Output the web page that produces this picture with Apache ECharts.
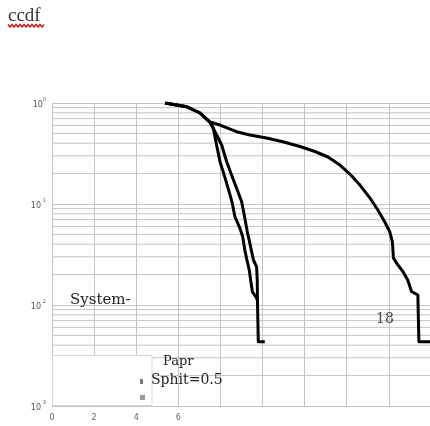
<!DOCTYPE html>
<html>
<head>
    <meta charset="utf-8">
    <title>ccdf</title>
    <script src="https://cdn.jsdelivr.net/npm/echarts@6/dist/echarts.min.js"></script>
    <style>
        html, body { margin: 0; padding: 0; background: #fff; }
        #chart { width: 430px; height: 426px; }
    </style>
</head>
<body>
    <div id="chart"></div>

    <script>
        // x ticks (only the first four carry a label in the picture)
        var xTickLabels = ['0', '2', '4', '6', '', '', '', '', '', '', ''];

        // minor log grid lines inside each decade
        var minorGrid = [
            0.9, 0.8, 0.7, 0.6, 0.5, 0.4, 0.3, 0.2,
            0.09, 0.08, 0.07, 0.06, 0.05, 0.04, 0.03, 0.02,
            0.009, 0.008, 0.007, 0.006, 0.005, 0.004, 0.003, 0.002
        ];

        // curve 1 (steep, left)
        var c1x = [5.37, 6.40, 7.03, 7.50, 7.66, 7.82, 7.98, 8.13, 8.37, 8.55, 8.69, 8.93, 9.06, 9.16, 9.26, 9.37, 9.45, 9.52, 9.69, 9.76];
        var c1y = [1.0, 0.918, 0.796, 0.648, 0.562, 0.384, 0.262, 0.209, 0.143, 0.105, 0.0748, 0.0574, 0.0474, 0.0350, 0.0279, 0.0222, 0.0169, 0.0135, 0.0120, 0.0112];

        // curve 2 (steep, right)
        var c2x = [5.37, 6.40, 7.03, 7.50, 7.66, 8.06, 8.30, 8.53, 8.77, 9.01, 9.16, 9.28, 9.40, 9.50, 9.57, 9.72, 9.75, 9.76, 9.80, 10.11];
        var c2y = [1.0, 0.918, 0.796, 0.648, 0.562, 0.384, 0.262, 0.194, 0.143, 0.1054, 0.0727, 0.0528, 0.0408, 0.0325, 0.0279, 0.0239, 0.0177, 0.0112, 0.00433, 0.00433];

        // curve 3 (wide one, runs off the right edge)
        var c3x = [5.37, 6.40, 7.03, 7.50, 7.98, 8.77, 9.40, 10.19, 10.97, 11.78, 12.49, 13.11, 13.68, 14.15, 14.63, 15.10,
                   15.48, 15.81, 16.05, 16.17, 16.22, 16.37, 16.67, 16.90, 17.08, 17.38, 17.43, 20];
        var c3y = [1.0, 0.918, 0.796, 0.648, 0.605, 0.520, 0.482, 0.450, 0.414, 0.371, 0.331, 0.292, 0.243, 0.198, 0.154, 0.115,
                   0.0872, 0.0664, 0.0528, 0.0421, 0.0292, 0.0260, 0.0214, 0.0177, 0.0136, 0.01256, 0.00433, 0.00433];

        function pairs(xs, ys) {
            var out = [];
            for (var i = 0; i < xs.length; i++) out.push([xs[i], ys[i]]);
            return out;
        }

        var gridColor = '#c4c4c4';
        var serif = '"DejaVu Serif", "Liberation Serif", serif';

        // red spell-check squiggle under the title
        var squiggle = [];
        for (var sx = 8; sx <= 44; sx += 2) {
            squiggle.push([sx, (sx / 2) % 2 === 0 ? 24.5 : 27]);
        }

        var curveStyle = { color: '#000', width: 3, join: 'round' };

        // minor grid lines drawn as plain line series through the log axis
        var gridSeries = minorGrid.map(function (v) {
            return {
                type: 'line',
                data: [[0, v], [20, v]],
                symbol: 'none',
                silent: true,
                z: 1,
                lineStyle: { color: gridColor, width: 1 }
            };
        });

        var chart = echarts.init(document.getElementById('chart'));
        chart.setOption({
            animation: false,
            grid: { left: 52, top: 103, width: 421, height: 303, outerBoundsMode: 'none', containLabel: false },
            xAxis: {
                type: 'value',
                min: 0,
                max: 20,
                interval: 2,
                axisLine: { show: true, lineStyle: { color: gridColor } },
                axisTick: { show: false },
                axisLabel: {
                    color: '#666',
                    fontSize: 8,
                    margin: 8,
                    fontFamily: 'DejaVu Sans',
                    formatter: function (v) { return xTickLabels[Math.round(v / 2)] || ''; }
                },
                splitLine: { show: true, lineStyle: { color: gridColor, width: 1 } }
            },
            yAxis: {
                type: 'log',
                logBase: 10,
                min: 0.001,
                max: 1,
                axisLine: { show: true, lineStyle: { color: gridColor } },
                axisTick: { show: false },
                axisLabel: {
                    margin: 6,
                    formatter: function (v) {
                        var e = Math.round(Math.log10(v));
                        return '{b|10}{s|' + e + '}';
                    },
                    rich: {
                        b: { fontSize: 8, color: '#555', lineHeight: 12, verticalAlign: 'bottom', fontFamily: 'DejaVu Sans' },
                        s: { fontSize: 5, color: '#555', lineHeight: 12, verticalAlign: 'top', fontFamily: 'DejaVu Sans' }
                    }
                },
                splitLine: { show: true, lineStyle: { color: gridColor, width: 1 } }
            },
            series: gridSeries.concat([
                { type: 'line', data: pairs(c1x, c1y), showSymbol: false, z: 3, lineStyle: curveStyle },
                { type: 'line', data: pairs(c2x, c2y), showSymbol: false, z: 3, lineStyle: curveStyle },
                { type: 'line', data: pairs(c3x, c3y), showSymbol: false, z: 3, lineStyle: curveStyle }
            ]),
            graphic: [
                {
                    type: 'text', left: 8, top: 7, z: 10,
                    style: { text: 'ccdf', font: '19px "Liberation Serif", serif', fill: '#333' }
                },
                {
                    type: 'polyline', z: 10,
                    shape: { points: squiggle },
                    style: { stroke: '#d42020', lineWidth: 1.5, fill: null }
                },
                {
                    type: 'rect', z: 5,
                    shape: { x: 52.5, y: 355.5, width: 99.5, height: 50 },
                    style: { fill: '#fff', stroke: '#d8d8d8', lineWidth: 1 }
                },
                {
                    type: 'rect', z: 6,
                    shape: { x: 140, y: 379, width: 3, height: 5 },
                    style: { fill: '#777' }
                },
                {
                    type: 'rect', z: 6,
                    shape: { x: 140, y: 395, width: 5, height: 5 },
                    style: { fill: '#999' }
                },
                {
                    type: 'text', x: 70, y: 300, z: 10,
                    style: { text: 'System-', font: '15px ' + serif, fill: '#222', verticalAlign: 'middle' }
                },
                {
                    type: 'text', x: 376, y: 319, z: 10,
                    style: { text: '18', font: '14px ' + serif, fill: '#444', verticalAlign: 'middle' }
                },
                {
                    type: 'text', x: 163, y: 362, z: 10,
                    style: { text: 'Papr', font: '13px ' + serif, fill: '#222', verticalAlign: 'middle' }
                },
                {
                    type: 'text', x: 151, y: 380, z: 10,
                    style: { text: 'Sphit=0.5', font: '14px ' + serif, fill: '#222', verticalAlign: 'middle' }
                }
            ]
        });
    </script>
</body>
</html>
